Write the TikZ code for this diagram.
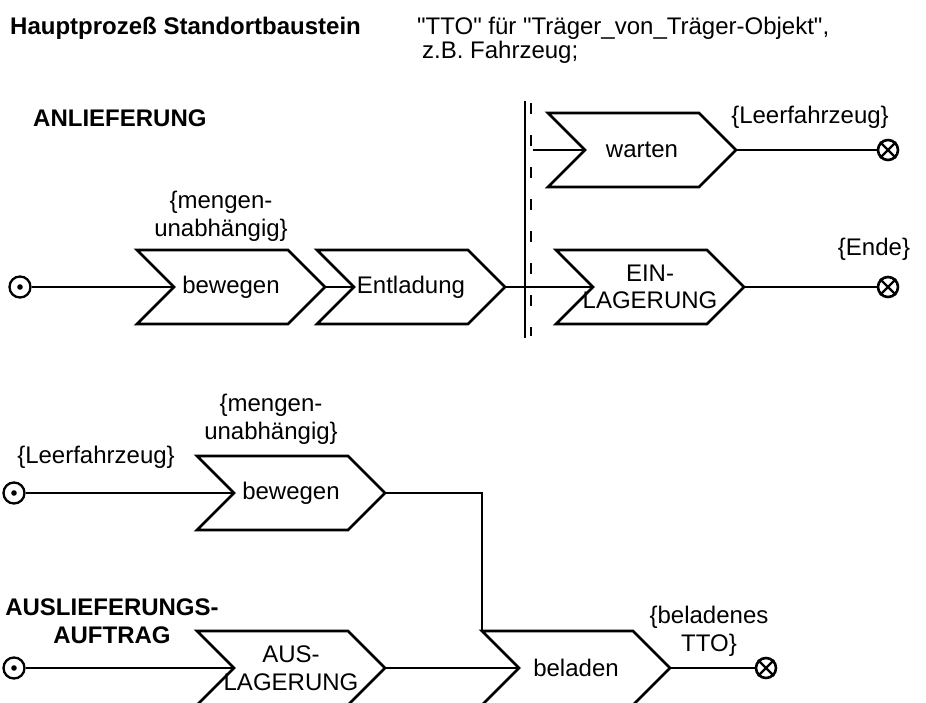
\documentclass[tikz,border=0pt]{standalone}
\usepackage{fontspec}
\setmainfont{Liberation Sans}

% process step drawn as a chevron: name, top-left x, centre y, label
\newcommand\chevron[4]{%
  \draw[chev] (#2,#3-37) -- ++(151,0) -- ++(37,37) -- ++(-37,37)
              -- ++(-151,0) -- ++(37,-37) -- cycle;
  \coordinate (#1-in)  at (#2+37,#3);
  \coordinate (#1-out) at (#2+188,#3);
  \coordinate (#1-tl)  at (#2,#3-37);
  \node (#1) at (#2+94,#3) {#4};
}

\begin{document}
\begin{tikzpicture}[x=1pt,y=-1pt,
  every node/.style={inner sep=0pt, font=\fontsize{24}{27.6}\selectfont, align=center},
  heading/.style={font=\fontsize{24}{27.6}\selectfont\bfseries},
  flow/.style={line width=2.8pt},
  chev/.style={line width=2.8pt, line join=miter, fill=white},
  startpt/.style={circle, draw, line width=2.3pt, minimum size=21pt},
  endpt/.style={circle, draw, line width=2.6pt, minimum size=20pt},
  endcross/.style={line width=2.4pt},
]
\fill[white] (0,0) rectangle (926,703);
\useasboundingbox (0,0) rectangle (926,703);

% headings
\node[heading, anchor=base west] (title) at (10,35) {Hauptprozeß Standortbaustein};
\node[anchor=base west] (note1) at (417,35)
  {\textquotedbl TTO\textquotedbl{} für \textquotedbl Träger\_von\_Träger-Objekt\textquotedbl ,};
\node[anchor=base west] (note2) at (422,59) {z.B. Fahrzeug;};
\node[heading, anchor=base west] (anl) at (33,127) {ANLIEFERUNG};
\node[heading] (ausl-head) at (112,621) {AUSLIEFERUNGS-\\AUFTRAG};

% delivery process
\node[startpt] (s1) at (20,287) {};
\fill (s1.center) circle (2.8);
\chevron{bewA}{137}{287}{bewegen}
\chevron{entl}{317}{287}{Entladung}
\chevron{wart}{548}{150}{warten}
\chevron{einl}{556}{287}{EIN-\\LAGERUNG}
\node[endpt] (e1) at (888,150) {};
\draw[endcross] (e1.north east) -- (e1.south west) (e1.north west) -- (e1.south east);
\node[endpt] (e2) at (888,287) {};
\draw[endcross] (e2.north east) -- (e2.south west) (e2.north west) -- (e2.south east);

% branching bar
\coordinate (barT) at (525,101);
\coordinate (barB) at (525,338);
\coordinate (dashT) at (531,103);
\coordinate (dashB) at (531,336);
\draw[line width=2.6pt] (barT) -- (barB);
\draw[line width=2.2pt, dash pattern=on 11pt off 21pt] (dashT) -- (dashB);
\coordinate (wfork) at (533,150);

\draw[flow] (s1) -- (bewA-in);
\draw[flow] (bewA-out) -- (entl-in);
\draw[flow] (entl-out) -- (einl-in);
\draw[flow] (wfork) -- (wart-in);
\draw[flow] (wart-out) -- (e1);
\draw[flow] (einl-out) -- (e2);

\node (lblA) at (221,216) {\{mengen-\\unabhängig\}};
\node (lblD) at (810,117) {\{Leerfahrzeug\}};
\node (lblE) at (874,249) {\{Ende\}};

% shipping process
\node[startpt] (s2) at (14,493) {};
\fill (s2.center) circle (2.8);
\node[startpt] (s3) at (14,668) {};
\fill (s3.center) circle (2.8);
\chevron{bewB}{197}{493}{bewegen}
\chevron{ausl}{197}{668}{AUS-\\LAGERUNG}
\chevron{bela}{482}{668}{beladen}
\node[endpt] (e3) at (766,668) {};
\draw[endcross] (e3.north east) -- (e3.south west) (e3.north west) -- (e3.south east);

\draw[flow] (s2) -- (bewB-in);
\draw[flow] (s3) -- (ausl-in);
\draw[flow] (bewB-out) -| (bela-tl);
\draw[flow] (ausl-out) -- (bela-in);
\draw[flow] (bela-out) -- (e3);

\node (lblB) at (271,419) {\{mengen-\\unabhängig\}};
\node (lblC) at (96,457) {\{Leerfahrzeug\}};
\node (lblF) at (709,631) {\{beladenes\\TTO\}};
\end{tikzpicture}
\end{document}
